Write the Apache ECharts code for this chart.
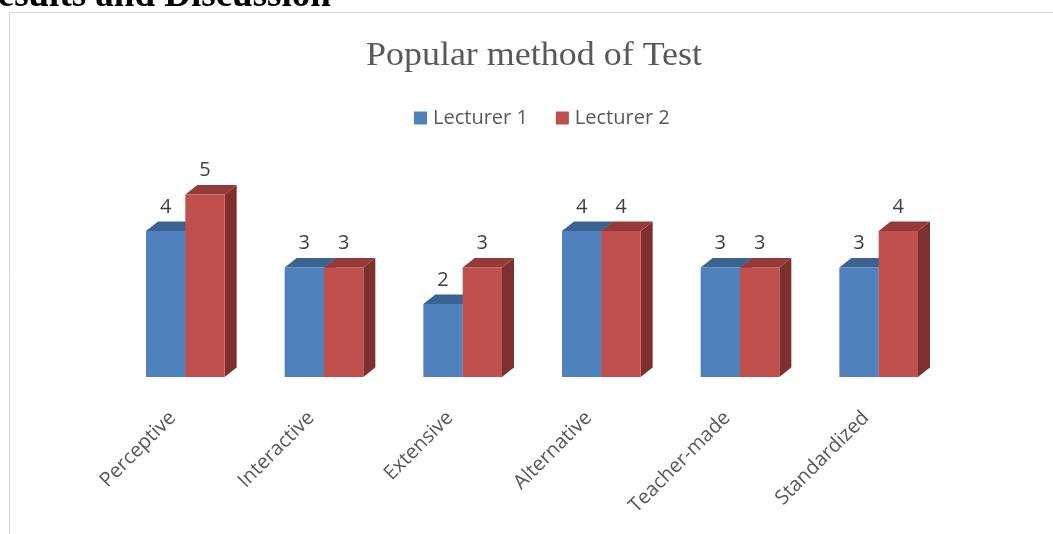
<!DOCTYPE html>
<html>
<head>
<meta charset="utf-8">
<title>Popular method of Test</title>
<script src="https://cdn.jsdelivr.net/npm/echarts@6/dist/echarts.min.js"></script>
<style>
    html, body { margin: 0; padding: 0; background: #fff; }
    #chart { width: 1053px; height: 534px; }
</style>
</head>
<body>
<div id="chart"></div>
<script>
// 数据
const categories = ['Perceptive', 'Interactive', 'Extensive', 'Alternative', 'Teacher-made', 'Standardized'];
const lecturer1 = [4, 3, 2, 4, 3, 3];
const lecturer2 = [5, 3, 3, 4, 3, 4];
const seriesNames = ['Lecturer 1', 'Lecturer 2'];

// 柱子颜色：正面 / 顶面 / 侧面
const faceColors = [
    { front: '#4F81BD', top: '#3B6392', side: '#2F5077' },
    { front: '#C0504D', top: '#953A38', side: '#7D302E' }
];

const DEPTH_X = 12;
const DEPTH_Y = 9.5;

document.addEventListener('DOMContentLoaded', function() {
    initChart();
});

// 伪 3D 柱子
function renderBar(params, api) {
    const idx = api.value(0);
    const val = api.value(1);
    const base = api.coord([idx, 0]);
    const top = api.coord([idx, val]);
    const band = api.size([1, 0])[0];
    const bw = band * 0.2836;
    const x0 = params.seriesIndex === 0 ? base[0] - bw : base[0];
    const c = faceColors[params.seriesIndex];

    return {
        type: 'group',
        children: [
            {
                type: 'polygon',
                shape: { points: [
                    [x0 + bw, top[1]], [x0 + bw + DEPTH_X, top[1] - DEPTH_Y],
                    [x0 + bw + DEPTH_X, base[1] - DEPTH_Y], [x0 + bw, base[1]]
                ] },
                style: { fill: c.side }
            },
            {
                type: 'polygon',
                shape: { points: [
                    [x0, top[1]], [x0 + bw, top[1]],
                    [x0 + bw + DEPTH_X, top[1] - DEPTH_Y], [x0 + DEPTH_X, top[1] - DEPTH_Y]
                ] },
                style: { fill: c.top }
            },
            {
                type: 'rect',
                shape: { x: x0, y: top[1], width: bw, height: base[1] - top[1] },
                style: { fill: c.front }
            },
            {
                type: 'text',
                style: {
                    text: String(val),
                    x: x0 + bw / 2,
                    y: top[1] - 24,
                    align: 'center',
                    verticalAlign: 'middle',
                    fontFamily: 'Open Sans',
                    fontSize: 20,
                    fill: '#404040'
                }
            }
        ]
    };
}

function initChart() {
    const chart = echarts.init(document.getElementById('chart'));

    const option = {
        animation: false,
        legend: {
            left: 414,
            top: 108,
            padding: 0,
            itemWidth: 13,
            itemHeight: 13,
            itemGap: 28,
            icon: 'rect',
            data: seriesNames,
            textStyle: {
                fontFamily: 'Open Sans',
                fontSize: 20,
                color: '#595959',
                padding: [0, 0, 0, 1]
            }
        },
        graphic: [
            {
                type: 'rect',
                shape: { x: 9.5, y: 12.5, width: 1200, height: 700 },
                style: { fill: null, stroke: '#d9d9d9', lineWidth: 1 },
                silent: true
            },
            {
                // 标题（原图横向略有拉伸）
                type: 'text',
                x: 534,
                y: 56,
                scaleX: 1.09,
                style: {
                    text: 'Popular method of Test',
                    x: 0,
                    y: 0,
                    align: 'center',
                    verticalAlign: 'middle',
                    fontFamily: 'Liberation Serif',
                    fontSize: 33,
                    fill: '#595959'
                }
            },
            {
                // 页面上方被裁掉的小节标题
                type: 'text',
                x: -29,
                y: -4,
                style: {
                    text: 'Results and Discussion',
                    x: 0,
                    y: 0,
                    align: 'left',
                    verticalAlign: 'middle',
                    fontFamily: 'Liberation Serif',
                    fontWeight: 'bold',
                    fontSize: 37,
                    fill: '#000'
                }
            }
        ],
        grid: {
            left: 116,
            right: 105,
            top: 158,
            bottom: 157
        },
        xAxis: {
            type: 'category',
            data: categories,
            axisLine: { show: false },
            axisTick: { show: false },
            axisLabel: {
                rotate: 45,
                margin: 25,
                padding: [0, 18, 0, 0],
                interval: 0,
                fontFamily: 'Open Sans',
                fontSize: 20,
                color: '#595959'
            }
        },
        yAxis: {
            type: 'value',
            min: 0,
            max: 6,
            show: false
        },
        series: [lecturer1, lecturer2].map(function(values, i) {
            return {
                name: seriesNames[i],
                type: 'custom',
                renderItem: renderBar,
                itemStyle: { color: faceColors[i].front },
                encode: { x: 0, y: 1 },
                data: values.map(function(v, k) { return [k, v]; })
            };
        })
    };

    chart.setOption(option);
}
</script>
</body>
</html>
